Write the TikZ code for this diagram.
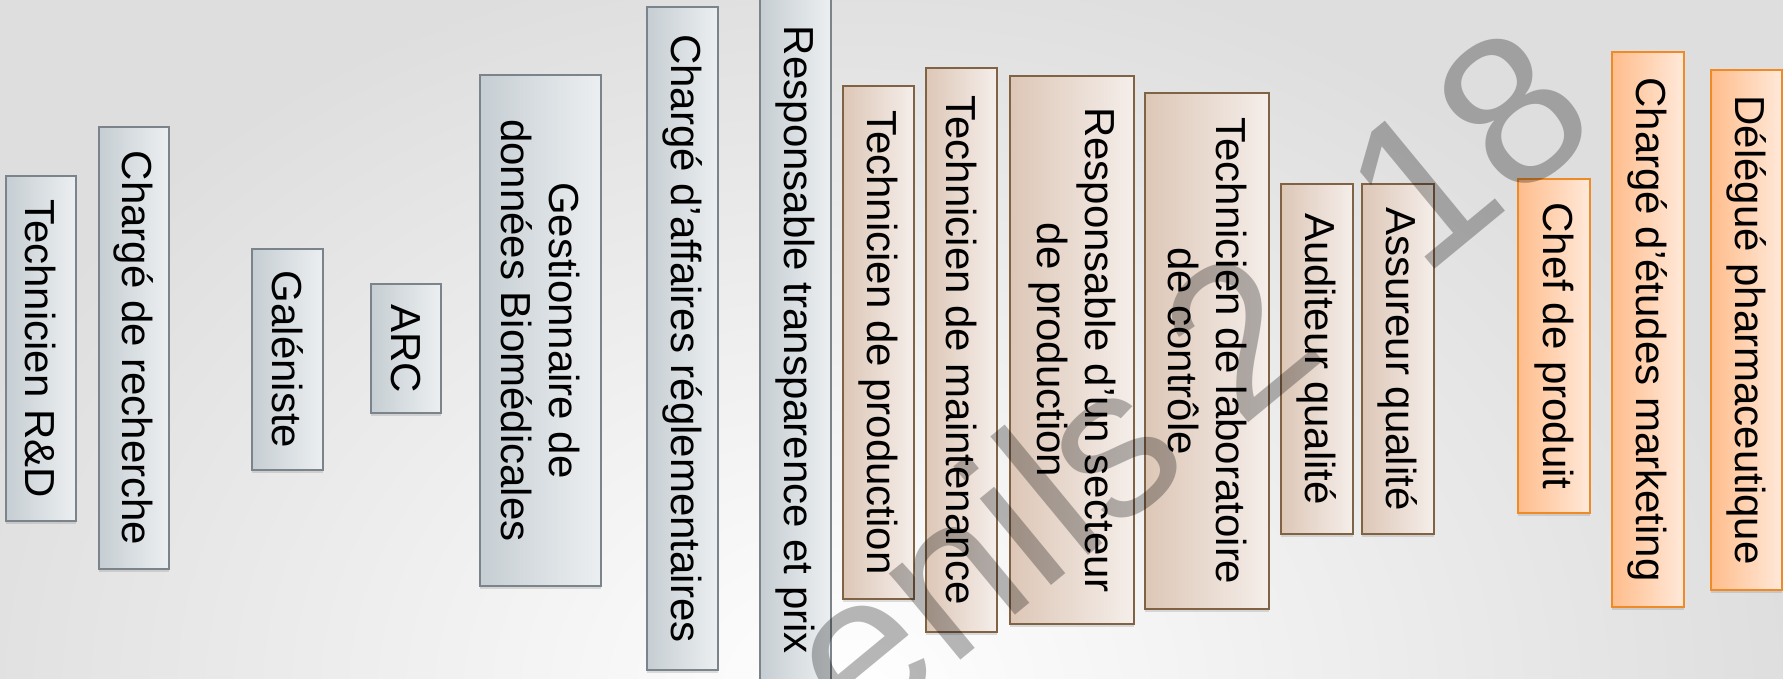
\documentclass[tikz,border=0pt]{standalone}
\usepackage{fontspec}
\setmainfont{Liberation Sans}
\usetikzlibrary{shadows}

\definecolor{greylo}{RGB}{198,206,211}
\definecolor{greyhi}{RGB}{236,239,241}
\definecolor{greyline}{RGB}{122,132,138}
\definecolor{brownlo}{RGB}{221,199,183}
\definecolor{brownhi}{RGB}{245,238,234}
\definecolor{brownline}{RGB}{128,98,68}
\definecolor{orangelo}{RGB}{255,189,140}
\definecolor{orangehi}{RGB}{255,233,218}
\definecolor{orangeline}{RGB}{238,138,40}

\tikzset{
  job/.style={draw, line width=0.8pt, rotate=-90, inner sep=0pt, align=center,
    font=\fontsize{21}{24}\selectfont,
    drop shadow={shadow xshift=0pt, shadow yshift=-1.5pt, opacity=0.25}},
  greyjob/.style={job, draw=greyline, left color=greylo, right color=greyhi},
  brownjob/.style={job, draw=brownline, left color=brownlo, right color=brownhi},
  orangejob/.style={job, draw=orangeline, left color=orangelo, right color=orangehi},
}

\begin{document}
\begin{tikzpicture}[x=0.5pt,y=-0.5pt]
\useasboundingbox (0,0) rectangle (1783,679);
\clip (0,0) rectangle (1783,679);

% Background
\shade[inner color=white, outer color=black!13] (-100,-60) rectangle (1800,1450);

% Recherche et developpement
\node[greyjob, minimum width=172.5pt, minimum height=35pt] (rd) at (41,348.5) {Technicien R\&D};
\node[greyjob, minimum width=221pt, minimum height=35pt] (chercheur) at (134,348) {Chargé de recherche};
\node[greyjob, minimum width=110.5pt, minimum height=35.5pt] (galeniste) at (287.5,359.5) {Galéniste};
\node[greyjob, minimum width=64.5pt, minimum height=35pt] (arc) at (406,348.5) {ARC};
\node[greyjob, minimum width=255.5pt, minimum height=60.5pt] (gestion) at (540.5,330.5) {Gestionnaire de\\données Biomédicales};
\node[greyjob, minimum width=331.5pt, minimum height=35.5pt] (reglem) at (682.5,338.5) {Chargé d’affaires réglementaires};
\node[greyjob, minimum width=350pt, minimum height=35.5pt] (prix) at (795.5,340) {Responsable transparence et prix};

% Production et qualite
\node[brownjob, minimum width=256.5pt, minimum height=35.5pt] (prod) at (878.5,342.5) {Technicien de production};
\node[brownjob, minimum width=282pt, minimum height=35.5pt] (maint) at (961.5,350) {Technicien de maintenance};
\node[brownjob, minimum width=274pt, minimum height=62pt] (secteur) at (1072,350) {Responsable d’un secteur\\de production};
\node[brownjob, minimum width=258pt, minimum height=62pt] (labo) at (1207,351) {Technicien de laboratoire\\de contrôle};
\node[brownjob, minimum width=175pt, minimum height=36pt] (auditeur) at (1317,359) {Auditeur qualité};
\node[brownjob, minimum width=175pt, minimum height=36pt] (assureur) at (1398,359) {Assureur qualité};

% Marketing et vente
\node[orangejob, minimum width=167pt, minimum height=36pt] (chefprod) at (1554,346) {Chef de produit};
\node[orangejob, minimum width=277.5pt, minimum height=36pt] (marketing) at (1648,329.5) {Chargé d’études marketing};
\node[orangejob, minimum width=260pt, minimum height=35.5pt] (delegue) at (1746.5,330) {Délégué pharmaceutique};

% Watermark
\node[black, opacity=0.28, rotate=39.5, anchor=base east, inner sep=0pt,
  font=\fontsize{106}{106}\selectfont] (marque) at (1605,129) {enils 2\hphantom{0}18};
\end{tikzpicture}
\end{document}
